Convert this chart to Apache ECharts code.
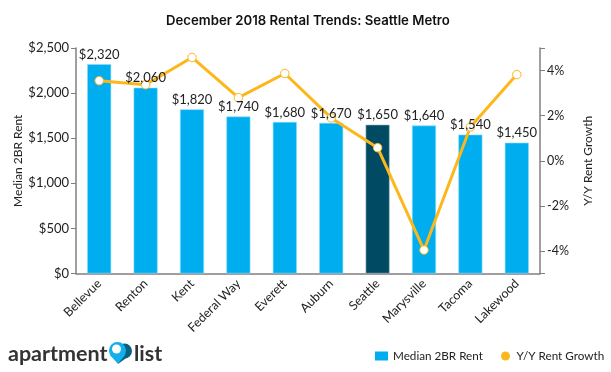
<!DOCTYPE html>
<html>
<head>
<meta charset="utf-8">
<style>
  html, body { margin: 0; padding: 0; background: #fff; }
  #chart { width: 611px; height: 372px; }
</style>
<script src="https://cdn.jsdelivr.net/npm/echarts@6/dist/echarts.min.js"></script>
</head>
<body>
<div id="chart"></div>
<script>
var cities = ['Bellevue', 'Renton', 'Kent', 'Federal Way', 'Everett', 'Auburn', 'Seattle', 'Marysville', 'Tacoma', 'Lakewood'];
var rent = [2320, 2060, 1820, 1740, 1680, 1670, 1650, 1640, 1540, 1450];
var growth = [3.55, 3.37, 4.58, 2.8, 3.87, 1.9, 0.58, -3.96, 1.5, 3.82];
var highlightCity = 'Seattle';
var growthTicks = [-4, -2, 0, 2, 4];
var growthCaps = [-5, -4, -2, 0, 2, 4, 5];

var fontName = 'Lato';
var axisGrey = '#7f7f7f';
var textColor = '#222222';
var barBlue = '#00aeef';
var barDark = '#004a63';
var lineOrange = '#fdb71a';

var chart = echarts.init(document.getElementById('chart'), null, { renderer: 'canvas' });

chart.setOption({
  animation: false,
  backgroundColor: '#fff',
  textStyle: { fontFamily: fontName },
  title: {
    text: 'December 2018 Rental Trends: Seattle Metro',
    left: 161,
    top: 10,
    textStyle: { fontFamily: 'Inter', fontSize: 13.2, fontWeight: 600, color: '#111' }
  },
  grid: { left: 76, right: 71, top: 48, bottom: 98.5, outerBoundsMode: 'none' },
  // two legends so each entry sits where the reference has it
  legend: [{
    left: 370,
    top: 345,
    itemWidth: 13,
    itemHeight: 9,
    textStyle: { fontFamily: fontName, fontSize: 11.7, color: textColor },
    data: [{ name: 'Median 2BR Rent', icon: 'rect', itemStyle: { color: barBlue, borderWidth: 0 } }]
  }, {
    left: 496,
    top: 345,
    itemWidth: 12,
    itemHeight: 9,
    textStyle: { fontFamily: fontName, fontSize: 11.7, color: textColor },
    data: [{ name: 'Y/Y Rent Growth', icon: 'circle', itemStyle: { color: lineOrange, borderWidth: 0 } }]
  }],
  xAxis: {
    type: 'category',
    data: cities,
    axisLine: { lineStyle: { color: axisGrey, width: 1.5 } },
    axisTick: { length: 5, alignWithLabel: true, lineStyle: { color: axisGrey } },
    axisLabel: { rotate: 45, interval: 0, margin: 8, fontFamily: fontName, fontSize: 12.5, color: textColor }
  },
  yAxis: [{
    type: 'value',
    min: 0,
    max: 2500,
    interval: 500,
    name: 'Median 2BR Rent',
    nameLocation: 'middle',
    nameMoveOverlap: false,
    nameGap: 52,
    nameTextStyle: { fontFamily: fontName, fontSize: 12, color: textColor },
    splitLine: { show: false },
    axisLine: { show: true, lineStyle: { color: axisGrey, width: 1.5 } },
    axisTick: { show: true, length: 5, lineStyle: { color: axisGrey } },
    axisLabel: {
      margin: 7, fontFamily: fontName, fontSize: 13, color: textColor,
      formatter: function (v) { return '$' + v.toLocaleString('en-US'); }
    }
  }, {
    type: 'value',
    min: -5,
    max: 5,
    position: 'right',
    name: 'Y/Y Rent Growth',
    nameLocation: 'middle',
    nameMoveOverlap: false,
    nameGap: 42,
    nameTextStyle: { fontFamily: fontName, fontSize: 12, color: textColor },
    splitLine: { show: false },
    axisLine: { show: true, lineStyle: { color: axisGrey, width: 1.5 } },
    axisTick: { show: true, length: 5, customValues: growthCaps, lineStyle: { color: axisGrey } },
    axisLabel: {
      margin: 7, fontFamily: fontName, fontSize: 12.5, color: textColor,
      customValues: growthTicks,
      formatter: function (v) { return v + '%'; }
    }
  }],
  series: [{
    name: 'Median 2BR Rent',
    type: 'bar',
    yAxisIndex: 0,
    barWidth: 24,
    barGap: '-100%',
    z: 1,
    data: rent.map(function (v, i) {
      var dark = cities[i] === highlightCity;
      return {
        value: v,
        itemStyle: {
          color: dark ? barDark : barBlue,
          borderColor: dark ? '#9fb8c2' : '#8adcf8',
          borderWidth: 0.6
        }
      };
    })
  }, {
    name: 'Y/Y Rent Growth',
    type: 'line',
    yAxisIndex: 1,
    data: growth,
    z: 2,
    symbol: 'circle',
    symbolSize: 8.5,
    lineStyle: { color: lineOrange, width: 3 },
    itemStyle: { color: '#fff', borderColor: lineOrange, borderWidth: 1 }
  }, {
    // see-through copy of the bars, only here so the value labels sit above the line
    name: 'rent labels',
    type: 'bar',
    yAxisIndex: 0,
    barWidth: 24,
    barGap: '-100%',
    z: 3,
    data: rent,
    itemStyle: { color: 'rgba(0,0,0,0)' },
    label: {
      show: true,
      position: 'top',
      distance: 3,
      fontFamily: fontName,
      fontSize: 13,
      color: textColor,
      formatter: function (p) { return '$' + p.value.toLocaleString('en-US'); }
    }
  }],
  graphic: [{
    type: 'text',
    left: 8,
    top: 343,
    style: { text: 'apartment', fontFamily: 'Lato', fontSize: 21.5, fontWeight: 700, fill: '#333333' }
  }, {
    type: 'text',
    left: 134,
    top: 343,
    style: { text: 'list', fontFamily: 'Lato', fontSize: 21.5, fontWeight: 700, fill: '#333333' }
  }, {
    type: 'circle',
    shape: { cx: 124.5, cy: 351, r: 7.5 },
    style: { fill: '#0b5f80' }
  }, {
    type: 'polygon',
    shape: { points: [[131, 354.5], [118, 364], [122, 350]] },
    style: { fill: '#0b5f80' }
  }, {
    type: 'circle',
    shape: { cx: 117.5, cy: 350.5, r: 8.5 },
    style: { fill: '#12b0ea' }
  }, {
    type: 'polygon',
    shape: { points: [[110, 355], [118, 364], [125, 355]] },
    style: { fill: '#12b0ea' }
  }, {
    type: 'circle',
    shape: { cx: 116.5, cy: 349, r: 4.5 },
    style: { fill: '#fff' }
  }]
});
</script>
</body>
</html>
